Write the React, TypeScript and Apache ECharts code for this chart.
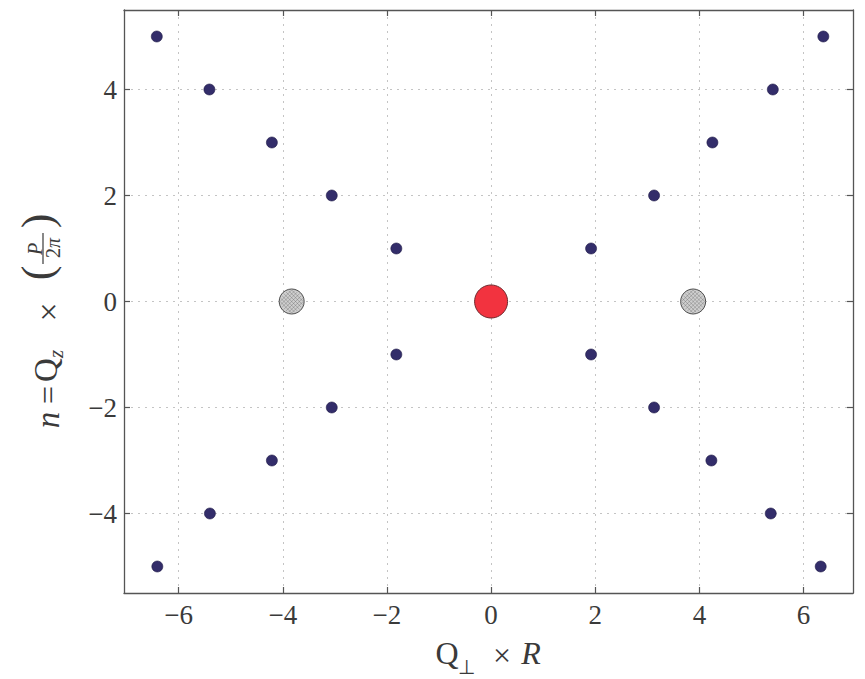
import React, { useEffect, useRef } from "react";
import * as echarts from "echarts";

// Layer-line peaks of a helix: order n and the Q⊥R position of each peak
const orders = [1, 2, 3, 4, 5];
const upperRight = [1.92, 3.13, 4.25, 5.41, 6.38];
const upperLeft = [-1.82, -3.06, -4.21, -5.41, -6.42];
const lowerRight = [1.92, 3.13, 4.23, 5.37, 6.33];
const lowerLeft = [-1.82, -3.06, -4.21, -5.4, -6.41];
// Meridional (origin) peak and equatorial peaks
const meridian = [[0, 0]];
const equator = [[-3.83, 0], [3.88, 0]];

const xTicks = [-6, -4, -2, 0, 2, 4, 6];
const yTicks = [-4, -2, 0, 2, 4];

const SERIF = '"Liberation Serif", "Times New Roman", serif';
const AXIS_COLOR = "#555";
const TEXT_COLOR = "#3a3a3a";

const fmt = (v: number) => (v < 0 ? "\u2212" + Math.abs(v) : String(v));

// Cross-hatch lines clipped to a unit circle, used as a scatter symbol
function hatchPath(): string {
  const r = 1;
  const parts: string[] = [];
  for (let k = -3; k <= 3; k++) {
    const c = (k * r) / 3;
    const d = Math.sqrt(2 * r * r - c * c);
    const a1 = (c - d) / 2;
    const a2 = (c + d) / 2;
    // line x - y = c: points (x, x - c)
    parts.push(`M${(a1 + r).toFixed(4)} ${(a1 - c + r).toFixed(4)}L${(a2 + r).toFixed(4)} ${(a2 - c + r).toFixed(4)}`);
    // line x + y = c: points (x, c - x)
    parts.push(`M${(a1 + r).toFixed(4)} ${(c - a1 + r).toFixed(4)}L${(a2 + r).toFixed(4)} ${(c - a2 + r).toFixed(4)}`);
  }
  return "path://" + parts.join("");
}

export default function App() {
  const ref = useRef<HTMLDivElement>(null);

  useEffect(() => {
    if (!ref.current) return;
    const chart = echarts.init(ref.current, null, { renderer: "svg" });

    const layerPoints: number[][] = [];
    orders.forEach((n, i) => {
      layerPoints.push([upperLeft[i], n]);
      layerPoints.push([upperRight[i], n]);
      layerPoints.push([lowerLeft[i], -n]);
      layerPoints.push([lowerRight[i], -n]);
    });

    const frameAxis = {
      axisLine: { show: true, onZero: false, lineStyle: { color: AXIS_COLOR, width: 1.3 } },
    };

    // flat or rotated (reading upwards) text glyph centred at (x, y)
    const glyph = (
      x: number,
      y: number,
      text: string,
      size: number,
      italic = false,
      rotated = false
    ) => ({
      type: "text",
      x,
      y,
      rotation: rotated ? Math.PI / 2 : 0,
      style: {
        text,
        font: `${italic ? "italic " : ""}${size}px ${SERIF}`,
        fill: TEXT_COLOR,
        textAlign: "center",
        textVerticalAlign: "middle",
      },
    });

    chart.setOption({
      animation: false,
      backgroundColor: "#ffffff",
      textStyle: { fontFamily: SERIF },
      grid: { left: 124, right: 12, top: 10, bottom: 86, containLabel: false },
      xAxis: [
        {
          type: "value",
          min: -7.05,
          max: 6.95,
          splitNumber: 7,
          position: "bottom",
          ...frameAxis,
          axisTick: {
            show: true,
            inside: true,
            length: 6,
            customValues: xTicks,
            lineStyle: { color: AXIS_COLOR, width: 1.2 },
          },
          axisLabel: {
            customValues: xTicks,
            formatter: fmt,
            fontSize: 27,
            color: TEXT_COLOR,
            fontFamily: SERIF,
            margin: 8,
          },
          splitLine: {
            show: true,
            lineStyle: { type: [2, 5], color: "#c4c4c4", width: 1 },
          },
        },
        {
          type: "value",
          min: -7.05,
          max: 6.95,
          splitNumber: 7,
          position: "top",
          ...frameAxis,
          axisTick: {
            show: true,
            inside: true,
            length: 6,
            customValues: xTicks,
            lineStyle: { color: AXIS_COLOR, width: 1.2 },
          },
          axisLabel: { show: false },
          splitLine: { show: false },
        },
      ],
      yAxis: [
        {
          type: "value",
          min: -5.5,
          max: 5.5,
          splitNumber: 5,
          position: "left",
          ...frameAxis,
          axisTick: {
            show: true,
            inside: true,
            length: 6,
            customValues: yTicks,
            lineStyle: { color: AXIS_COLOR, width: 1.2 },
          },
          axisLabel: {
            customValues: yTicks,
            formatter: fmt,
            fontSize: 27,
            color: TEXT_COLOR,
            fontFamily: SERIF,
            margin: 7,
          },
          splitLine: {
            show: true,
            lineStyle: { type: [2, 5], color: "#c4c4c4", width: 1 },
          },
        },
        {
          type: "value",
          min: -5.5,
          max: 5.5,
          splitNumber: 5,
          position: "right",
          ...frameAxis,
          axisTick: {
            show: true,
            inside: true,
            length: 6,
            customValues: yTicks,
            lineStyle: { color: AXIS_COLOR, width: 1.2 },
          },
          axisLabel: { show: false },
          splitLine: { show: false },
        },
      ],
      series: [
        {
          name: "layer lines",
          type: "scatter",
          data: layerPoints,
          symbol: "circle",
          symbolSize: 11,
          itemStyle: { color: "#332d6a", borderColor: "#1f1a45", borderWidth: 0.6, opacity: 1 },
          z: 3,
        },
        {
          name: "equator",
          type: "scatter",
          data: equator,
          symbol: "circle",
          symbolSize: 25,
          itemStyle: { color: "#cfcfcf", borderColor: "#4a4a4a", borderWidth: 1, opacity: 1 },
          z: 4,
        },
        {
          name: "equator hatch",
          type: "scatter",
          data: equator,
          symbol: hatchPath(),
          symbolSize: 23,
          silent: true,
          itemStyle: {
            color: "transparent",
            borderColor: "rgba(100,100,100,0.55)",
            borderWidth: 0.7,
            opacity: 1,
          },
          z: 5,
        },
        {
          name: "meridian",
          type: "scatter",
          data: meridian,
          symbol: "circle",
          symbolSize: 33,
          itemStyle: { color: "#f2333f", borderColor: "#6e2a2e", borderWidth: 1, opacity: 1 },
          z: 6,
        },
      ],
      graphic: [
        // x-axis title: Q⊥ × R
        glyph(447, 653, "Q", 32),
        glyph(466, 667, "\u22a5", 20),
        glyph(502, 655, "\u00d7", 32),
        glyph(531, 653, "R", 32, true),
        // y-axis title: n = Q_z × (P / 2π), reading upwards
        glyph(48, 420, "n", 33, true, true),
        glyph(48, 395, "=", 32, false, true),
        glyph(46, 370, "Q", 33, false, true),
        glyph(56, 354, "z", 21, true, true),
        glyph(48, 312, "\u00d7", 34, false, true),
        glyph(37, 273, "(", 44, false, true),
        glyph(35, 249, "P", 20, true, true),
        {
          type: "line",
          shape: { x1: 43, y1: 264, x2: 43, y2: 233 },
          style: { stroke: TEXT_COLOR, lineWidth: 1.2 },
        },
        {
          type: "text",
          x: 53,
          y: 248,
          rotation: Math.PI / 2,
          style: {
            rich: {
              a: { font: `20px ${SERIF}`, fill: TEXT_COLOR },
              b: { font: `italic 20px ${SERIF}`, fill: TEXT_COLOR },
            },
            text: "{a|2}{b|\u03c0}",
            textAlign: "center",
            textVerticalAlign: "middle",
          },
        },
        glyph(37, 221, ")", 44, false, true),
      ],
    });

    return () => chart.dispose();
  }, []);

  return (
    <div
      ref={ref}
      style={{ position: "fixed", left: 0, top: 0, width: 865, height: 679 }}
    />
  );
}
